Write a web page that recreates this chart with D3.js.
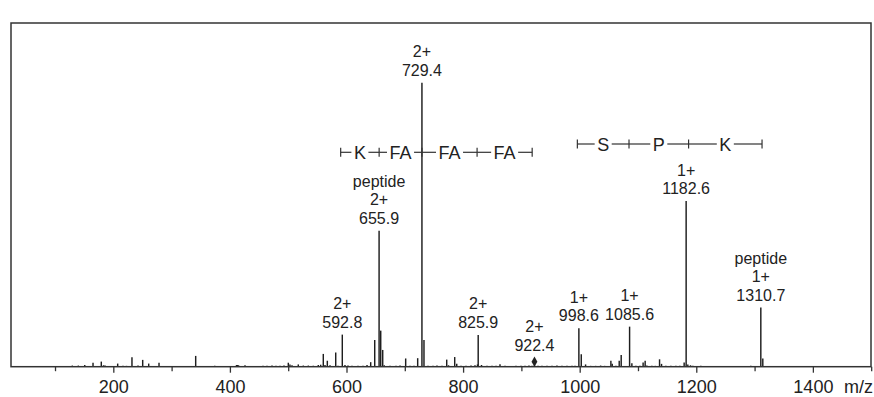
<!DOCTYPE html>
<html>
<head>
<meta charset="utf-8">
<script src="https://cdn.jsdelivr.net/npm/d3@7"></script>
<style>
  body { margin: 0; background: #fff; }
  svg { display: block; }
  text { font-family: "Liberation Sans", Arial, Helvetica, sans-serif; fill: #222; }
</style>
</head>
<body>
<svg id="chart" width="874" height="397"></svg>
<script>
// Labelled precursor / fragment ions (m/z, relative intensity %)
const labelMz     = [592.8, 655.9, 729.4, 825.9, 922.4, 998.6, 1085.6, 1182.6, 1310.7];
const labelInt    = [11.3, 47.9, 100, 11.2, 0.6, 13.5, 14.1, 58.3, 20.8];
const labelCharge = ["2+", "2+", "2+", "2+", "2+", "1+", "1+", "1+", "1+"];
const labelNote   = ["", "peptide", "", "", "", "", "", "", "peptide"];

// Ion flagged with a diamond marker
const markerMz = [922.4];

// Unlabelled peaks (m/z, relative intensity %)
const minorMz = [
  129.7, 140, 151, 165.2, 179.4, 183.2, 185.8, 207.5, 216.6, 222.6, 232, 242.4, 250.4, 260.7, 278.4,
  341.3, 374, 411.3, 413, 414.8, 425.9, 438, 446.5, 456.8, 463.6, 472.2, 479, 485.9, 492.8,
  500.2, 503, 506.5, 517.3, 525.9, 534.5, 543, 551.6, 555.7, 560.2, 563.1, 567.1, 571.7, 581.5, 585.4,
  597.4, 602.6, 609.4, 619.7, 628.3, 635.2, 641.5, 648.4, 658.7, 662.1, 664.8, 674.6, 684.9, 691.8,
  701.5, 708.9, 715.8, 722.1, 732.9, 739.8, 748.4, 755.2, 763.8, 771.9, 775, 785.6, 789.1,
  796.4, 805, 813.6, 820.4, 824.7, 831.6, 841, 849.6, 856.5, 863.3, 871.9, 882.2, 890.7, 899.3,
  906.2, 913, 918.2, 928.5, 935.3, 943.9, 952.5, 961, 969.6, 978.2, 986.8, 992,
  1002.7, 1010.1, 1018.7, 1027.3, 1035.9, 1042.7, 1053.5, 1055.8, 1062.1, 1067.8, 1071.2, 1089.5,
  1096.4, 1103.3, 1108.8, 1112.3, 1115.2, 1123.8, 1129.8, 1137, 1140.4, 1147.8, 1156.4, 1165, 1171.8,
  1179.2, 1185.5, 1190.1, 1194.1, 1207.8, 1293.5, 1314.1
];
const minorInt = [
  0.4, 0.4, 0.6, 1.4, 1.8, 0.5, 0.4, 1.1, 0.3, 0.3, 3.3, 0.4, 2.4, 1.1, 1.4,
  3.8, 0.3, 0.6, 0.6, 0.5, 0.5, 0.2, 0.2, 0.3, 0.3, 0.4, 0.3, 0.3, 0.4,
  1.4, 0.8, 0.5, 0.8, 0.4, 0.4, 0.3, 0.6, 0.7, 4.5, 0.6, 2.1, 0.5, 5.0, 0.3,
  0.6, 0.4, 0.3, 0.3, 0.3, 0.6, 1.6, 9.4, 12.7, 5.9, 0.5, 0.3, 0.3, 0.4,
  2.9, 0.3, 0.3, 3.0, 9.4, 0.3, 0.3, 0.4, 0.3, 2.5, 0.5, 3.4, 1.0,
  0.3, 0.3, 0.4, 0.5, 0.8, 0.6, 0.3, 0.3, 0.3, 0.9, 0.3, 0.2, 0.3, 0.3,
  0.3, 0.4, 0.3, 0.3, 0.3, 0.3, 0.3, 0.4, 0.3, 0.3, 0.3, 0.3,
  4.4, 0.8, 0.3, 0.3, 0.4, 0.3, 2.1, 1.0, 0.3, 2.1, 4.1, 1.2,
  0.3, 0.3, 1.5, 2.1, 0.4, 0.3, 0.3, 2.6, 1.0, 0.3, 0.3, 0.3, 0.3,
  1.5, 0.8, 0.5, 0.3, 0.3, 0.3, 2.9
];

// Sequence ladders: boundary m/z positions and the residues between them
const ladder1Mz  = [590, 656, 729.4, 824, 918.5];
const ladder1Res = ["K", "FA", "FA", "FA"];
const ladder2Mz  = [996, 1084.6, 1186.8, 1312.8];
const ladder2Res = ["S", "P", "K"];

// Axis ticks
const majorTicks = [200, 400, 600, 800, 1000, 1200, 1400];
const minorTicks = [100, 300, 500, 700, 900, 1100, 1300, 1500];
const axisTitle = "m/z";

const svg = d3.select("#chart");
const plot = { left: 11, right: 871, top: 23, bottom: 366.7 };

const x = d3.scaleLinear().domain([24.5, 1499.7]).range([plot.left, plot.right]);
const y = d3.scaleLinear().domain([0, 121]).range([plot.bottom, plot.top]);

const peaks = minorMz.map((m, i) => ({ mz: m, int: minorInt[i] }))
  .concat(labelMz.map((m, i) => ({ mz: m, int: labelInt[i] })))
  .sort((a, b) => a.mz - b.mz);

// Spectrum sticks
svg.append("g").selectAll("line").data(peaks).join("line")
  .attr("x1", d => x(d.mz)).attr("x2", d => x(d.mz))
  .attr("y1", y(0)).attr("y2", d => y(d.int))
  .attr("stroke", "#1e1e1e").attr("stroke-width", 1.45);

// Frame
svg.append("rect")
  .attr("x", plot.left).attr("y", plot.top)
  .attr("width", plot.right - plot.left).attr("height", plot.bottom - plot.top)
  .attr("fill", "none").attr("stroke", "#333").attr("stroke-width", 1.5);

// Axes
const gMajor = svg.append("g").attr("transform", `translate(0,${plot.bottom})`)
  .call(d3.axisBottom(x).tickValues(majorTicks).tickSize(6).tickFormat(d3.format("d")));
const gMinor = svg.append("g").attr("transform", `translate(0,${plot.bottom})`)
  .call(d3.axisBottom(x).tickValues(minorTicks).tickSize(4.5).tickFormat(""));
[gMajor, gMinor].forEach(g => {
  g.select(".domain").remove();
  g.selectAll(".tick line").attr("stroke", "#333").attr("stroke-width", 1.3);
});
gMajor.selectAll(".tick text")
  .attr("y", 26.3).attr("dy", 0)
  .style("font-size", "18px").style("font-family", '"Liberation Sans", Arial, sans-serif')
  .attr("fill", "#222");

svg.append("text").attr("x", 844).attr("y", 392.5)
  .style("font-size", "18px").text(axisTitle);

// Diamond marker
const diamond = d3.symbol().type(d3.symbolDiamond).size(30);
svg.append("g").selectAll("path").data(markerMz).join("path")
  .attr("d", diamond)
  .attr("transform", d => `translate(${x(d)},${y(0) - 5})`)
  .attr("fill", "#222");

// Peak labels
const lineGap = 18.5;
labelMz.forEach((m, i) => {
  const isMarker = markerMz.includes(m);
  const anchor = isMarker ? y(0) - 9 : y(labelInt[i]);
  const lines = [labelNote[i], labelCharge[i], m.toFixed(1)].filter(s => s !== "");
  const base = anchor - 7;
  lines.forEach((t, k) => {
    svg.append("text")
      .attr("x", x(m)).attr("y", base - (lines.length - 1 - k) * lineGap)
      .attr("text-anchor", "middle")
      .style("font-size", "16px")
      .text(t);
  });
});

// Sequence ladders
function drawLadder(mzs, residues, yLine) {
  const g = svg.append("g");
  const xs = mzs.map(x);
  xs.forEach(xx => {
    g.append("line").attr("x1", xx).attr("x2", xx)
      .attr("y1", yLine - 4.5).attr("y2", yLine + 4.5)
      .attr("stroke", "#333").attr("stroke-width", 1.2);
  });
  residues.forEach((r, i) => {
    const c = (xs[i] + xs[i + 1]) / 2;
    const t = g.append("text").attr("x", c).attr("y", yLine + 6.5)
      .attr("text-anchor", "middle").style("font-size", "18px").text(r);
    const w = t.node().getComputedTextLength();
    [[xs[i], c - w / 2 - 2.5], [c + w / 2 + 2.5, xs[i + 1]]].forEach(([a, b]) => {
      g.append("line").attr("x1", a).attr("x2", b)
        .attr("y1", yLine).attr("y2", yLine)
        .attr("stroke", "#333").attr("stroke-width", 1.2);
    });
  });
}
drawLadder(ladder1Mz, ladder1Res, 152.3);
drawLadder(ladder2Mz, ladder2Res, 144);
</script>
</body>
</html>
